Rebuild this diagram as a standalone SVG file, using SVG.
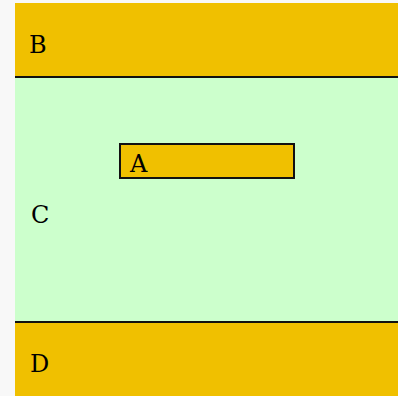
<svg xmlns="http://www.w3.org/2000/svg" width="398" height="396" viewBox="0 0 398 396">
<style>
.band{fill:#f0c000}
.mid{fill:#ccffcc}
.sep{stroke:#111;stroke-width:2}
.lbl{font-family:"DejaVu Serif",serif;font-size:24px;fill:#000}
</style>
<rect x="0" y="0" width="398" height="396" fill="#f8f8f8"/>
<g id="C">
<rect class="mid" x="15" y="77" width="383" height="245"/>
<text class="lbl" x="31" y="223">C</text>
</g>
<g id="B">
<rect class="band" x="15" y="3" width="383" height="74"/>
<text class="lbl" x="29" y="53">B</text>
</g>
<g id="D">
<rect class="band" x="15" y="322" width="383" height="74"/>
<text class="lbl" x="30" y="372">D</text>
</g>
<g id="connectors">
<line class="sep" x1="15" y1="77" x2="398" y2="77"/>
<line class="sep" x1="15" y1="322" x2="398" y2="322"/>
</g>
<g id="A">
<rect class="band" x="120" y="144" width="174" height="34" stroke="#111" stroke-width="2"/>
<text class="lbl" x="130" y="172">A</text>
</g>
</svg>
